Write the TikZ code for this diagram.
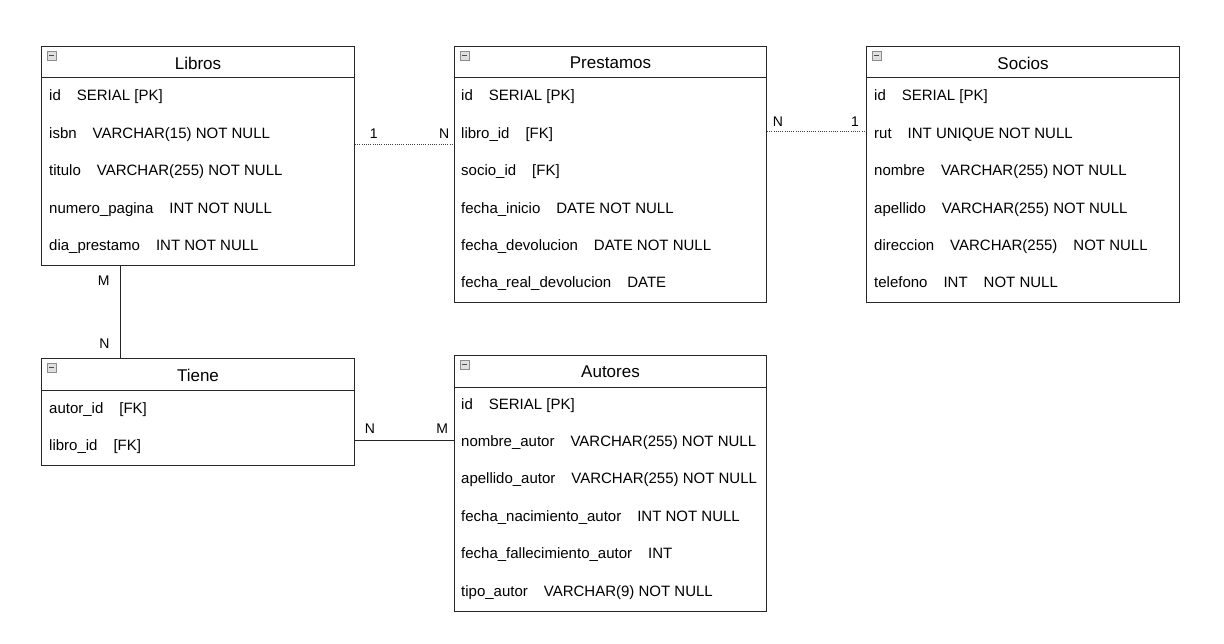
\documentclass[tikz,border=0pt]{standalone}
\usepackage{fontspec}
\setmainfont{Liberation Sans}
\usepackage{tikz}
\usetikzlibrary{calc,positioning}
\tikzset{
  tabla/.style={draw=black!85, line width=1pt, fill=white, anchor=north west, inner sep=0pt},
  titulo/.style={font=\fontsize{17}{20}\selectfont, inner sep=0pt},
  campo/.style={font=\fontsize{15}{18}\selectfont, anchor=west, inner sep=0pt, text height=11pt, text depth=3pt},
  etiqueta/.style={font=\fontsize{14}{16}\selectfont, inner sep=0pt},
  menos/.style={draw=gray!90, fill=gray!25, minimum size=9pt, inner sep=0pt,
      path picture={\draw[black!70, line width=1.5pt] ([xshift=2pt]path picture bounding box.west) -- ([xshift=-2pt]path picture bounding box.east);}},
  rel/.style={draw=black!85, line width=1pt},
  relpunto/.style={draw=black!75, line width=1pt, dash pattern=on 1pt off 1.2pt}
}
\newcommand{\sep}{\hspace{16pt}}

\begin{document}
\begin{tikzpicture}[x=1pt, y=-1pt]
  \useasboundingbox (0,0) rectangle (1224,644);

  % tablas
  \node[tabla, minimum width=313pt, minimum height=219pt] (libros) at (41,46) {};
  \node[tabla, minimum width=312pt, minimum height=256pt] (prestamos) at (454,46) {};
  \node[tabla, minimum width=313pt, minimum height=256pt] (socios) at (866,46) {};
  \node[tabla, minimum width=313pt, minimum height=107pt] (tiene) at (41,358) {};
  \node[tabla, minimum width=312pt, minimum height=256pt] (autores) at (454,355) {};

  % encabezados
  \foreach \tb/\nombre in {libros/Libros, prestamos/Prestamos, socios/Socios, tiene/Tiene, autores/Autores} {
    \node[titulo] (\tb-titulo) at ($(\tb.north)+(0,17)$) {\nombre};
    \node[menos] (\tb-icono) at ($(\tb.north west)+(10.5,9.5)$) {};
    \draw[draw=black!85, line width=1pt] ([yshift=-32pt]\tb.north west) -- ([yshift=-32pt]\tb.north east);
  }

  % campos
  \foreach \t [count=\i] in {id\sep SERIAL [PK], isbn\sep VARCHAR(15) NOT NULL, titulo\sep VARCHAR(255) NOT NULL,
      numero\_pagina\sep INT NOT NULL, dia\_prestamo\sep INT NOT NULL}
    \node[campo] (libros-\i) at ($(libros.north west)+(8,13.6+37.4*\i)$) {\t};
  \foreach \t [count=\i] in {id\sep SERIAL [PK], libro\_id\sep [FK], socio\_id\sep [FK],
      fecha\_inicio\sep DATE NOT NULL, fecha\_devolucion\sep DATE NOT NULL, fecha\_real\_devolucion\sep DATE}
    \node[campo] (prestamos-\i) at ($(prestamos.north west)+(7,13.6+37.4*\i)$) {\t};
  \foreach \t [count=\i] in {id\sep SERIAL [PK], rut\sep INT UNIQUE NOT NULL, nombre\sep VARCHAR(255) NOT NULL,
      apellido\sep VARCHAR(255) NOT NULL, direccion\sep VARCHAR(255)\sep NOT NULL, telefono\sep INT\sep NOT NULL}
    \node[campo] (socios-\i) at ($(socios.north west)+(8,13.6+37.4*\i)$) {\t};
  \foreach \t [count=\i] in {autor\_id\sep [FK], libro\_id\sep [FK]}
    \node[campo] (tiene-\i) at ($(tiene.north west)+(8,13.6+37.4*\i)$) {\t};
  \foreach \t [count=\i] in {id\sep SERIAL [PK], nombre\_autor\sep VARCHAR(255) NOT NULL, apellido\_autor\sep VARCHAR(255) NOT NULL,
      fecha\_nacimiento\_autor\sep INT NOT NULL, fecha\_fallecimiento\_autor\sep INT, tipo\_autor\sep VARCHAR(9) NOT NULL}
    \node[campo] (autores-\i) at ($(autores.north west)+(7,12.6+37.4*\i)$) {\t};

  % relaciones
  \draw[relpunto] (libros.east |- 0,145) -- (prestamos.west |- 0,145)
    node[etiqueta, pos=0.19, above=6pt] {1}
    node[etiqueta, pos=0.9, above=6pt] {N};
  \draw[relpunto] (prestamos.east |- 0,132) -- (socios.west |- 0,132)
    node[etiqueta, pos=0.11, above=5pt] {N}
    node[etiqueta, pos=0.89, above=5pt] {1};
  \draw[rel] (libros.south -| 120,0) -- (tiene.north -| 120,0)
    node[etiqueta, pos=0.16, left=10pt] {M}
    node[etiqueta, pos=0.84, left=10pt] {N};
  \draw[rel] (tiene.east |- 0,440) -- (autores.west |- 0,440)
    node[etiqueta, pos=0.15, above=6pt] {N}
    node[etiqueta, pos=0.88, above=6pt] {M};
\end{tikzpicture}
\end{document}
